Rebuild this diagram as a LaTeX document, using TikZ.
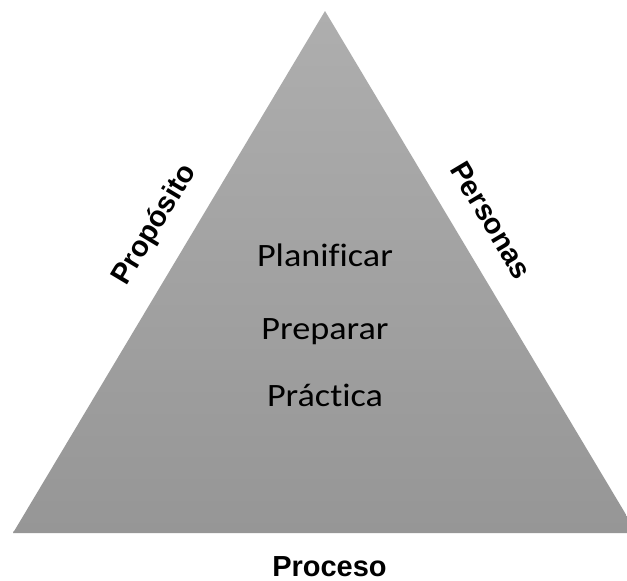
\documentclass[tikz,border=0pt]{standalone}
\usepackage{fontspec}
\newfontfamily\stagefont[FakeStretch=1.11,Ligatures=NoCommon]{Carlito}
\newfontfamily\sidefont{Liberation Sans}
\begin{document}
\begin{tikzpicture}[x=1pt,y=-1pt,
  stage/.style={font=\stagefont\fontsize{32.6}{36}\selectfont, text=black, inner sep=0pt, anchor=base},
  side/.style={font=\sidefont\bfseries\fontsize{29}{32}\selectfont, text=black, inner sep=0pt}]
  \useasboundingbox (0,0) rectangle (627,581);
  \fill[white] (0,0) rectangle (627,581);
  % triangle corners
  \coordinate (apex) at (325,11);
  \coordinate (bl) at (13,533);
  \coordinate (br) at (637,533);
  % thin light rim under the base
  \fill[gray!40] (bl) -- (br) -- ([yshift=2]br) -- ([yshift=2]bl) -- cycle;
  % shaded triangle
  \shade[top color={rgb,255:red,174;green,174;blue,174},
         bottom color={rgb,255:red,150;green,150;blue,150}]
    (apex) -- (br) -- (bl) -- cycle;
  % stages inside the triangle
  \node[stage] (plan) at (325,266.3) {Planificar};
  \node[stage] (prep) at (325,339) {Preparar};
  \node[stage] (prac) at (325,406.7) {Práctica};
  % labels along the sides
  \node[side, rotate=59.1] (proposito) at (155,225) {Propósito};
  \node[side, rotate=-59.1] (personas) at (491,220) {Personas};
  \node[side, anchor=base] (proceso) at (329.5,576) {Proceso};
\end{tikzpicture}
\end{document}
